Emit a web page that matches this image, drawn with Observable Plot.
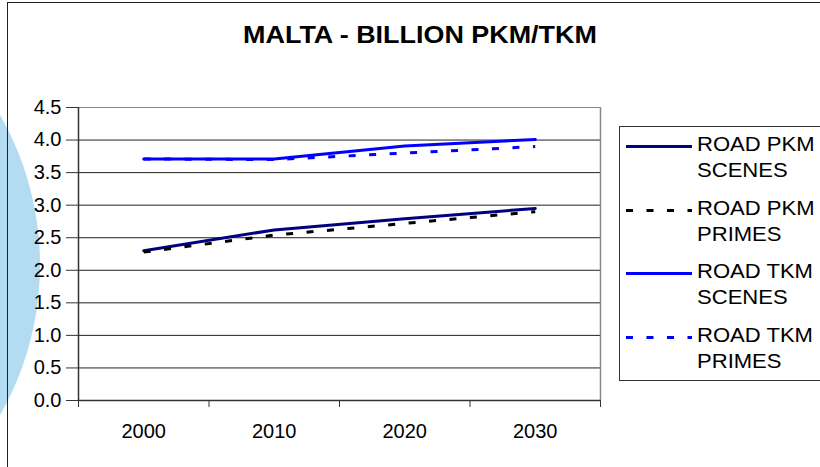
<!DOCTYPE html>
<html>
<head>
<meta charset="utf-8">
<script src="https://cdn.jsdelivr.net/npm/d3@7"></script>
<script src="https://cdn.jsdelivr.net/npm/@observablehq/plot@0.6"></script>
<style>
  html, body { margin: 0; padding: 0; background: #fff; }
  #wrap { position: relative; width: 820px; height: 467px; overflow: hidden; font-family: "Liberation Sans", Arial, sans-serif; }
  #deco { position: absolute; z-index: 0; left: -562px; top: -36px; width: 602px; height: 602px; border-radius: 50%; background: #b3dbf1; }
  #frame { position: absolute; z-index: 2; left: 7px; top: 2px; width: 900px; height: 600px; border: 1px solid #222; }
  #title { position: absolute; z-index: 3; left: 0; width: 840px; top: 22px; text-align: center; font-weight: bold; font-size: 23px; transform: scaleX(1.17); transform-origin: 420px 0; color: #000; }
  #chart { position: absolute; z-index: 3; left: 0; top: 0; }
  #legendBox { position: absolute; z-index: 3; left: 619px; top: 126px; width: 260px; height: 253px; border: 1px solid #333; }
  #legend { position: absolute; z-index: 4; left: 0; top: 0; }
  .item { position: absolute; left: 626px; height: 52px; width: 200px; }
  .item svg { position: absolute; left: 0; top: 0; }
  .item span { position: absolute; left: 71px; top: 0; font-size: 21px; line-height: 26px; color: #000; white-space: nowrap; transform: scaleX(1.05); transform-origin: 0 0; }
</style>
</head>
<body>
<div id="wrap">
  <div id="deco"></div>
  <div id="frame"></div>
  <div id="title"></div>
  <div id="chart"></div>
  <div id="legendBox"></div>
  <div id="legend"></div>
</div>
<script>
const title = "MALTA - BILLION PKM/TKM";
const years = [2000, 2010, 2020, 2030];
const yTicks = [0, 0.5, 1, 1.5, 2, 2.5, 3, 3.5, 4, 4.5];
const seriesNames = ["ROAD PKM SCENES", "ROAD PKM PRIMES", "ROAD TKM SCENES", "ROAD TKM PRIMES"];
const roadPkmScenes = [2.30, 2.62, 2.79, 2.95];
const roadPkmPrimes = [2.28, 2.54, 2.72, 2.90];
const roadTkmScenes = [3.71, 3.71, 3.91, 4.01];
const roadTkmPrimes = [3.71, 3.70, 3.80, 3.90];

const seriesValues = [roadPkmScenes, roadPkmPrimes, roadTkmScenes, roadTkmPrimes];
const styles = [
  {stroke: "#000080", dash: null},
  {stroke: "#000000", dash: "7 13.5"},
  {stroke: "#0000ff", dash: null},
  {stroke: "#0000ff", dash: "7 13.5"}
];

// category boundaries (half a step each side of each year)
const step = years[1] - years[0];
const bounds = [...years.map(y => y - step / 2), years[years.length - 1] + step / 2];

document.getElementById("title").textContent = title;

const lineMarks = seriesValues.map((vals, i) => {
  const data = years.map((y, j) => ({year: y, value: vals[j]}));
  return Plot.lineY(data, {
    x: "year", y: "value",
    stroke: styles[i].stroke,
    strokeWidth: 3,
    strokeDasharray: styles[i].dash || undefined,
    strokeLinecap: styles[i].dash ? "butt" : "round",
    curve: "linear"
  });
});

const plot = Plot.plot({
  width: 820,
  height: 467,
  marginLeft: 78,
  marginRight: 220,
  marginTop: 107,
  marginBottom: 67,
  style: {background: "transparent", fontFamily: "'Liberation Sans', Arial, sans-serif", fontSize: "20px", color: "#000", overflow: "visible"},
  x: {type: "linear", domain: [bounds[0], bounds[bounds.length - 1]], axis: null},
  y: {domain: [0, yTicks[yTicks.length - 1]], axis: null},
  marks: [
    Plot.ruleY(yTicks.slice(1, -1), {stroke: "#222", strokeWidth: 1}),
    Plot.ruleY([yTicks[yTicks.length - 1]], {stroke: "#888", strokeWidth: 1}),
    Plot.ruleX([bounds[bounds.length - 1]], {stroke: "#888", strokeWidth: 1.5}),
    Plot.ruleX([bounds[0]], {stroke: "#333", strokeWidth: 1.5}),
    Plot.ruleY([0], {stroke: "#333", strokeWidth: 1.5}),
    Plot.axisY({ticks: yTicks, tickFormat: d => d.toFixed(1), tickSize: 12, tickPadding: 5, stroke: "#333", fontSize: 20, label: null}),
    Plot.axisX({ticks: bounds, tickFormat: () => "", tickSize: 7, stroke: "#333", label: null}),
    Plot.axisX({ticks: years, tickFormat: d => String(d), tickSize: 0, tickPadding: 23, fontSize: 20, label: null}),
    ...lineMarks
  ]
});
document.getElementById("chart").appendChild(plot);

// legend
const legend = document.getElementById("legend");
seriesNames.forEach((name, i) => {
  const item = document.createElement("div");
  item.className = "item";
  item.style.top = (131.4 + i * 63.4) + "px";
  const ns = "http://www.w3.org/2000/svg";
  const svg = document.createElementNS(ns, "svg");
  svg.setAttribute("width", "70");
  svg.setAttribute("height", "30");
  const ln = document.createElementNS(ns, "line");
  ln.setAttribute("x1", "0"); ln.setAttribute("x2", "66");
  ln.setAttribute("y1", "15.5"); ln.setAttribute("y2", "15.5");
  ln.setAttribute("stroke", styles[i].stroke);
  ln.setAttribute("stroke-width", "3");
  if (styles[i].dash) ln.setAttribute("stroke-dasharray", styles[i].dash);
  svg.appendChild(ln);
  item.appendChild(svg);
  const span = document.createElement("span");
  const words = name.split(" ");
  span.innerHTML = words.slice(0, 2).join(" ") + "<br>" + words.slice(2).join(" ");
  item.appendChild(span);
  legend.appendChild(item);
});
</script>
</body>
</html>
